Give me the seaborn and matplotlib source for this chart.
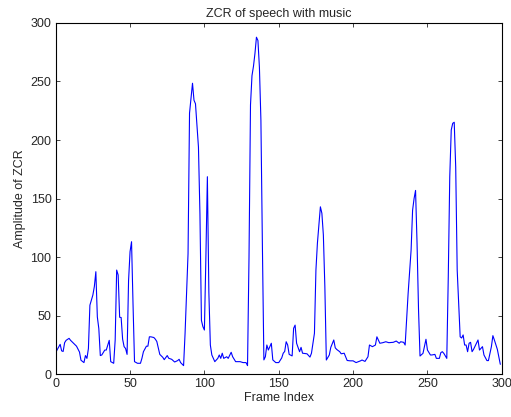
import matplotlib
matplotlib.use("Agg")
import matplotlib.pyplot as plt
import seaborn as sns
import pandas as pd

# valori (frame, ampiezza ZCR)
frame_idx = [0, 1, 3, 4, 5, 6, 7, 9, 10, 12, 14, 16, 17, 19, 20, 21, 22, 23, 25, 26,
             27, 28, 29, 30, 31, 33, 34, 36, 37, 39, 40, 41, 42, 43, 44, 45, 46, 47, 48, 49,
             50, 51, 52, 53, 55, 57, 58, 59, 61, 62, 63, 64, 66, 67, 68, 70, 72, 73, 75, 76,
             78, 80, 82, 83, 84, 86, 87, 89, 90, 92, 93, 94, 96, 97, 98, 99, 100, 101, 102, 103,
             104, 105, 107, 109, 110, 111, 112, 113, 115, 116, 118, 119, 121, 124, 126, 128, 129, 130, 131, 132,
             133, 134, 135, 136, 137, 138, 139, 140, 141, 142, 143, 145, 146, 148, 150, 152, 153, 154, 155, 156,
             157, 159, 160, 161, 162, 164, 165, 166, 169, 171, 172, 174, 175, 176, 178, 179, 180, 181, 182, 184,
             185, 187, 188, 189, 191, 192, 194, 196, 198, 200, 202, 205, 206, 208, 210, 211, 213, 215, 216, 218,
             220, 222, 224, 227, 229, 231, 232, 234, 235, 237, 239, 240, 241, 242, 243, 244, 245, 247, 249, 250,
             252, 253, 255, 256, 258, 259, 260, 261, 263, 264, 265, 266, 267, 268, 269, 270, 272, 273, 274, 275,
             276, 277, 278, 279, 280, 281, 283, 284, 285, 287, 288, 290, 291, 293, 294, 295, 297, 298, 299]

zcr = [18.5, 21, 25.6, 20, 19.5, 27, 29, 30.7, 29, 26.5, 24, 19, 12, 10, 16, 13.6, 22, 59, 67.7, 75,
       87.6, 49, 39, 16, 16.5, 20.7, 20.7, 29, 10.8, 9.4, 29.3, 89, 84.8, 48.7, 48.5, 30, 23.6, 22, 17, 80,
       104.7, 113.2, 60, 10.8, 9.4, 9.4, 13.7, 19.3, 24, 24, 32, 32, 31.4, 30, 28, 17, 14.5, 12.5, 16, 13.7,
       12.8, 10.5, 11.7, 12.8, 10, 7.4, 35, 103, 223, 248.5, 234, 231, 194, 137, 46, 40.7, 37.8, 100, 168.7, 70,
       25, 16.5, 10.8, 13.6, 16.5, 13.6, 18, 13.6, 15, 13.6, 18.8, 15, 10.8, 10.8, 10, 10, 7.4, 100, 230, 255,
       263, 274, 287.8, 285, 262, 217, 110, 12.3, 15, 25, 20.7, 26.5, 12.3, 10, 10, 14, 18, 19.5, 27.8, 25,
       17, 15.7, 39.3, 42, 26.5, 19.3, 23, 18, 17.5, 14.7, 18, 35, 89, 112, 143, 137.5, 119, 75, 12.2, 16.5,
       23, 29.3, 22.6, 21.2, 19.3, 17.5, 18, 11.8, 11.5, 11.5, 10, 11.5, 12.2, 11, 15, 25, 23.6, 25, 32, 26.5,
       27, 27.8, 27, 27.3, 28.4, 26.5, 27.8, 27.3, 25, 69, 106, 140, 150, 157, 112, 55, 15.6, 17.9, 29.9, 20.7,
       16.5, 16.5, 17, 13.6, 13.6, 18.5, 19.3, 17.9, 13.6, 83, 168.7, 208.6, 214.3, 215.2, 177, 89, 32, 31, 33.6, 25,
       25, 19.3, 26.5, 27.3, 19.3, 21.3, 26.5, 29.3, 20.7, 23.6, 16.5, 11.7, 11.7, 23.6, 33, 29.3, 21.3, 15, 8.5]

df = pd.DataFrame({"Frame": frame_idx, "ZCR": zcr})

sns.set_style("ticks")
plt.rcParams['font.family'] = ['Liberation Sans', 'DejaVu Sans']

fig = plt.figure(figsize=(5.11, 4.17), dpi=100)
ax = fig.add_axes([0.109, 0.1024, 0.873, 0.8426])
sns.lineplot(data=df, x="Frame", y="ZCR", color="blue", linewidth=0.8, ax=ax)

ax.set_xlim(0, 300)
ax.set_ylim(0, 300)
ax.set_xticks(range(0, 301, 50))
ax.set_yticks(range(0, 301, 50))
ax.tick_params(direction="in", length=3, width=0.6, labelsize=9, top=True, right=True, pad=3)
for s in ax.spines.values():
    s.set_linewidth(0.8)
    s.set_color("black")
ax.set_title("ZCR of speech with music", fontsize=9, pad=4)
ax.set_xlabel("Frame Index", fontsize=9, labelpad=1)
ax.set_ylabel("Amplitude of ZCR", fontsize=9, labelpad=3)

fig.savefig("out.png", dpi=100)
